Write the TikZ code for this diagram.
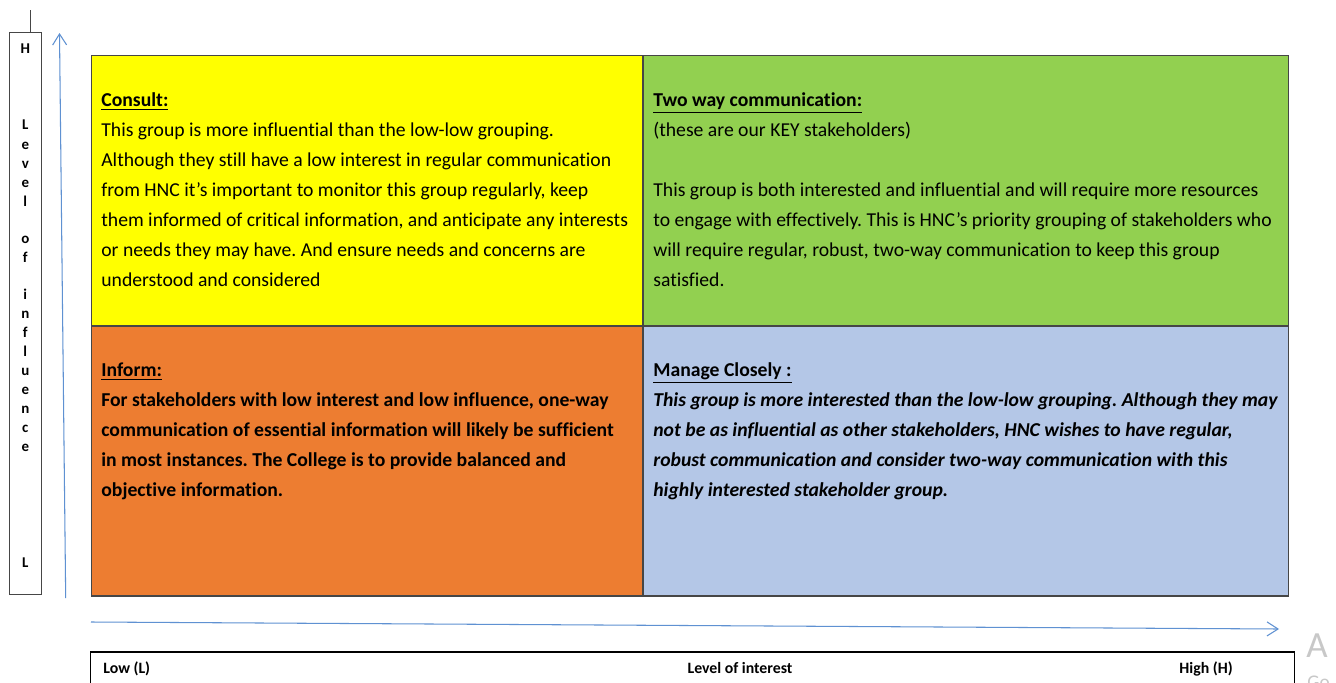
\documentclass[tikz,border=0pt]{standalone}
\usepackage{fontspec}
\setmainfont{Carlito}[Ligatures=CommonOff]
\usetikzlibrary{arrows.meta,positioning,calc}
\definecolor{consultYellow}{RGB}{255,255,  0}
\definecolor{twoWayGreen}  {RGB}{146,208, 80}
\definecolor{informOrange} {RGB}{237,125, 49}
\definecolor{manageBlue}   {RGB}{180,199,231}
\definecolor{axisBlue}     {RGB}{ 95,145,210}
\definecolor{gridGrey}     {RGB}{ 70, 70, 70}
\definecolor{markGrey}     {RGB}{200,200,200}
\frenchspacing

\tikzset{
  quad/.style={draw=gridGrey,line width=0.6pt,inner sep=0pt,outer sep=0pt},
  cellText/.style={anchor=north west,align=left,inner sep=0pt,
                   font=\fontsize{11.2}{17.07}\selectfont},
  axisArrow/.style={axisBlue,line width=0.6pt,
                    -{Straight Barb[length=2.2mm,width=2.8mm]}},
  axisLetter/.style={anchor=base,inner sep=0pt,
                     font=\bfseries\fontsize{8.5}{9}\selectfont},
  scaleLabel/.style={anchor=base west,inner sep=0pt,
                     font=\bfseries\fontsize{9}{10}\selectfont}
}

\begin{document}
\begin{tikzpicture}[x=0.02cm,y=-0.02cm]
    \useasboundingbox[fill=white] (0,0) rectangle (1336,683);

    % ── quadrants ────────────────────────────────────────
    \node[quad,fill=consultYellow,minimum width=11.04cm,minimum height=5.42cm]
          (consult) at (367,190.5){};
    \node[quad,fill=twoWayGreen,minimum width=12.92cm,minimum height=5.42cm]
          (twoWay) at (966,190.5){};
    \node[quad,fill=informOrange,minimum width=11.04cm,minimum height=5.4cm]
          (inform) at (367,461){};
    \node[quad,fill=manageBlue,minimum width=12.92cm,minimum height=5.4cm]
          (manage) at (966,461){};

    % texte des cases (le \strut fixe le haut de la 1re ligne)
    \node[cellText] (consultTxt) at (101,85){%
      \strut\textbf{\underline{Consult:}}\\
      This group is more influential than the low-low grouping.\\
      Although they still have a low interest in regular communication\\
      from HNC it’s important to monitor this group regularly, keep\\
      them informed of critical information, and anticipate any interests\\
      or needs they may have. And ensure needs and concerns are\\
      understood and considered};
    \node[cellText] (twoWayTxt) at (653,85){%
      \strut\textbf{\underline{Two way communication:}}\\
      (these are our KEY stakeholders)\\[0.6cm]
      This group is both interested and influential and will require more resources\\
      to engage with effectively. This is HNC’s priority grouping of stakeholders who\\
      will require regular, robust, two-way communication to keep this group\\
      satisfied.};
    \node[cellText,font=\fontsize{11.2}{17.07}\selectfont\bfseries] (informTxt) at (101,355){%
      \strut\underline{Inform:}\\
      For stakeholders with low interest and low influence, one-way\\
      communication of essential information will likely be sufficient\\
      in most instances. The College is to provide balanced and\\
      objective information.};
    \node[cellText,font=\fontsize{11.2}{17.07}\selectfont\bfseries\itshape] (manageTxt) at (653,355){%
      \strut{\upshape\underline{Manage Closely :}}\\
      This group is more interested than the low-low grouping. Although they may\\
      not be as influential as other stakeholders, HNC wishes to have regular,\\
      robust communication and consider two-way communication with this\\
      highly interested stakeholder group.};

    % ── axe vertical : influence ─────────────────────────
    \node[draw=gridGrey,line width=0.6pt,minimum width=0.63cm,minimum height=11.26cm,
          inner sep=0pt] (influenceBox) at (25.3,313.5){};
    \coordinate (tickTop) at (30.5,10);
    \draw[gridGrey,line width=0.6pt] (tickTop) -- (tickTop |- influenceBox.north);
    \foreach \ch/\yy in {H/49,L/125,e/145,v/164,e/183,l/202,o/239,f/258,
                         i/295,n/314,f/333,l/352,u/371,e/390,n/409,c/428,e/447,L/563}{
      \node[axisLetter] (lvl\yy) at (25.3,\yy+4){\ch};
    }
    \coordinate (yStart) at (65.7,598);
    \coordinate (yEnd) at (59.5,33);
    \draw[axisArrow] (yStart) -- (yEnd);

    % ── axe horizontal : interest ────────────────────────
    \coordinate (xStart) at (91,622);
    \coordinate (xEnd) at (1279,629);
    \draw[axisArrow] (xStart) -- (xEnd);
    \node[draw=black,line width=0.6pt,minimum width=24.1cm,minimum height=1.2cm,
          inner sep=0pt] (interestBox) at (692.5,682){};
    \node[scaleLabel] (lowLbl) at (103,673){Low (L)};
    \node[scaleLabel,anchor=base] (interestLbl) at (740,673){Level of interest};
    \node[scaleLabel,anchor=base east] (highLbl) at (1233,673){High (H)};

    % marque grise en bordure droite
    \node[anchor=base west,inner sep=0pt,markGrey,font=\fontsize{21}{24}\selectfont]
          (markA) at (1306,657){A};
    \node[anchor=base west,inner sep=0pt,markGrey,font=\fontsize{11}{13}\selectfont]
          (markGo) at (1307,688){Go};
  \end{tikzpicture}
\end{document}
